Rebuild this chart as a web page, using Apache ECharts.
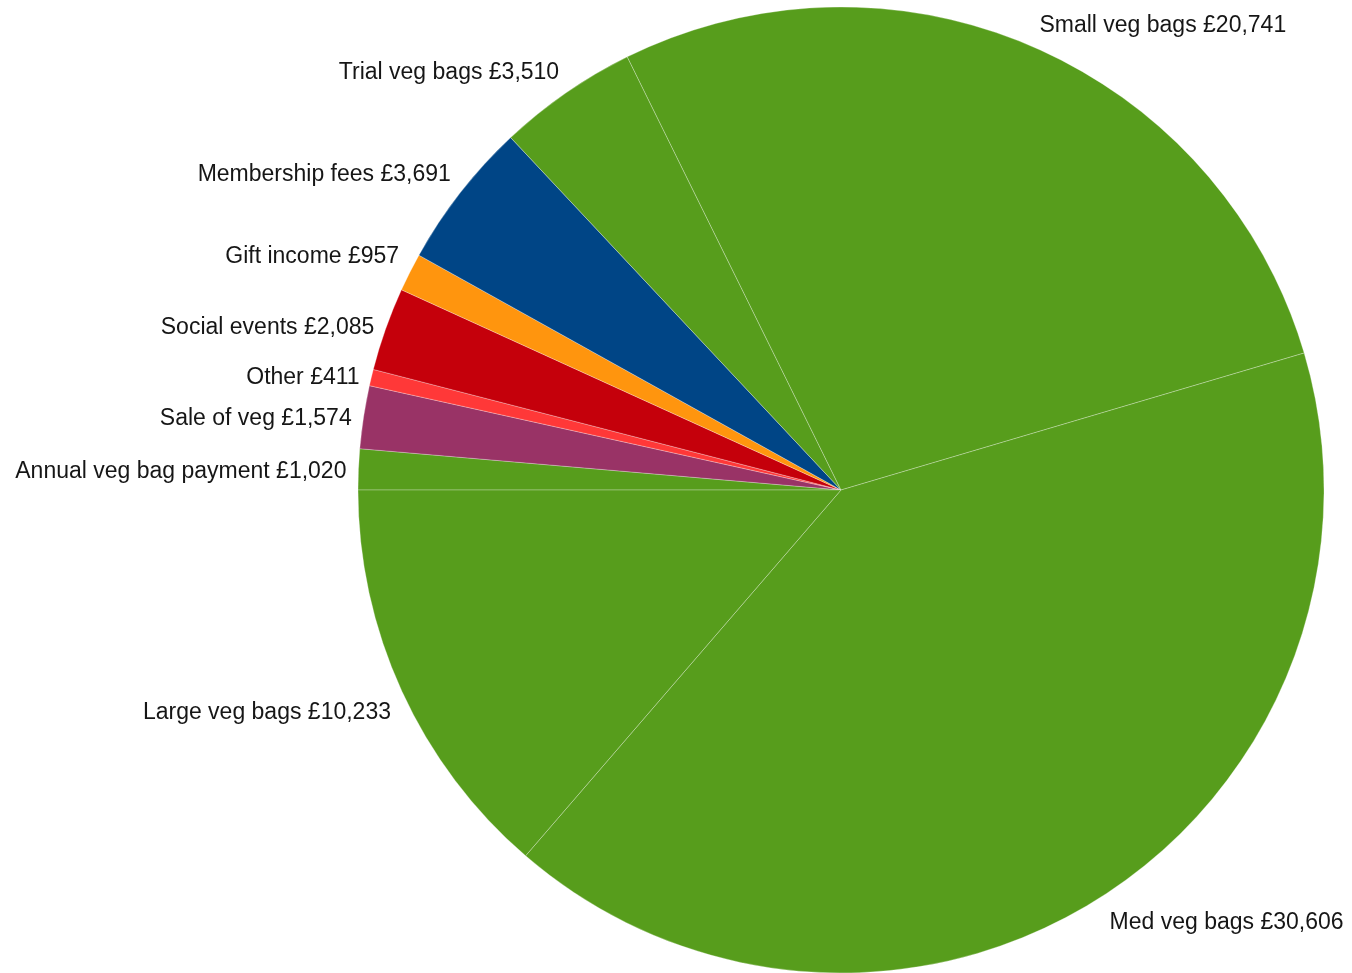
<!DOCTYPE html>
<html>
<head>
<meta charset="utf-8">
<script src="https://cdn.jsdelivr.net/npm/echarts@6/dist/echarts.min.js"></script>
<style>
  html, body { margin: 0; padding: 0; background: #ffffff; }
  #chart { width: 1352px; height: 973px; }
</style>
</head>
<body>
<div id="chart"></div>
<script>
// Income sources, in the order the slices run clockwise from 9 o'clock
const categories = [
  'Annual veg bag payment', 'Sale of veg', 'Other', 'Social events',
  'Gift income', 'Membership fees', 'Trial veg bags', 'Small veg bags',
  'Med veg bags', 'Large veg bags'
];
const values = [1020, 1574, 411, 2085, 957, 3691, 3510, 20741, 30606, 10233];
const sliceColors = [
  '#579d1c', '#993366', '#ff3838', '#c5000b', '#ff950e',
  '#004586', '#579d1c', '#579d1c', '#579d1c', '#579d1c'
];

const CX = 841, CY = 490, R = 483, LABEL_GAP = 12, LABEL_SHIFT = 3, START = 180;

const total = values.reduce((a, b) => a + b, 0);
// mid angle of each slice, in degrees clockwise from 12 o'clock
const midAngles = [];
let acc = 0;
values.forEach(v => {
  midAngles.push((270 + (acc + v / 2) / total * 360) % 360);
  acc += v;
});

const chart = echarts.init(document.getElementById('chart'), null, { renderer: 'canvas' });

chart.setOption({
  backgroundColor: '#ffffff',
  animation: false,
  series: [{
    type: 'pie',
    center: [CX, CY],
    radius: [0, R],
    startAngle: START,
    clockwise: true,
    avoidLabelOverlap: false,
    silent: true,
    data: categories.map((name, i) => ({
      name: name,
      value: values[i],
      itemStyle: { color: sliceColors[i] }
    })),
    itemStyle: {
      borderColor: 'rgba(255,255,255,0.28)',
      borderWidth: 1
    },
    label: {
      show: true,
      position: 'outside',
      fontFamily: 'Liberation Sans, Arial, sans-serif',
      fontSize: 23,
      lineHeight: 27,
      color: '#161616',
      formatter: p => p.name + ' £' + p.value.toLocaleString('en-GB')
    },
    labelLine: { show: false },
    // labels sit just outside the rim at each slice's mid angle,
    // anchored by the box corner/edge that faces the pie
    labelLayout: function (params) {
      const a = midAngles[params.dataIndex] * Math.PI / 180;
      const s = Math.sin(a), c = Math.cos(a);
      const x = CX + (R + LABEL_GAP) * s;
      const y = CY - (R + LABEL_GAP) * c + LABEL_SHIFT;
      const lim = Math.sin(22.5 * Math.PI / 180);
      const align = Math.abs(s) < lim ? 'center' : (s > 0 ? 'left' : 'right');
      const verticalAlign = Math.abs(c) < lim ? 'middle' : (c > 0 ? 'bottom' : 'top');
      return { x: x, y: y, align: align, verticalAlign: verticalAlign };
    }
  }]
});
</script>
</body>
</html>
